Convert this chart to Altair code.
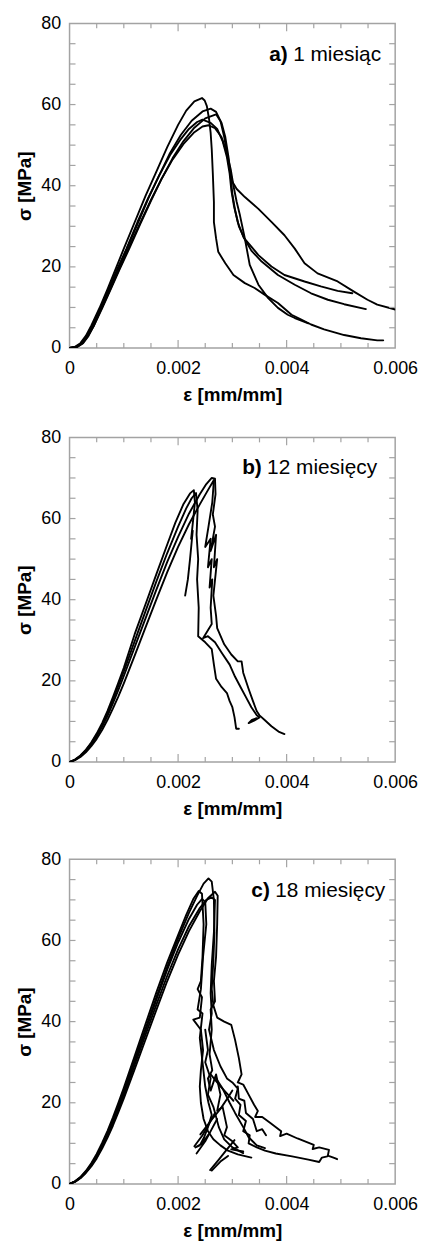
import altair as alt
import pandas as pd

# ---------------- data (strain in 1e-3 mm/mm, stress in MPa) ----------------
# panel a) 1 miesiąc
A1 = [(0,0),(0.1,0.3),(0.2,1.2),(0.3,3),(0.4,5.5),(0.55,9.8),(0.7,14.5),(0.85,19.5),(1.0,24.5),(1.2,31),(1.4,37.5),(1.6,43.5),(1.8,49.5),(2.0,55),(2.15,58.5),(2.3,60.8),(2.44,61.6),
      (2.49,61),(2.53,59.6),(2.57,56.5),(2.6,53),(2.62,49),(2.64,43),(2.66,36),(2.66,31),(2.7,27),(2.74,23.7),(2.87,20.9),(3.02,18),(3.23,16),(3.41,14.8),(3.6,13.1),(3.84,11.1),(4.09,8.2),(4.27,7.0),(4.45,5.8),(4.69,4.6),(5.06,3.2),(5.37,2.4),(5.67,1.9),(5.78,1.9)]
A2 = [(0,0),(0.12,0.3),(0.22,1.2),(0.32,3),(0.42,5.5),(0.57,9.8),(0.72,14.5),(0.88,19.5),(1.05,24.5),(1.25,31),(1.45,37),(1.65,42.5),(1.85,47.5),(2.05,51.5),(2.2,54),(2.35,55.7),(2.45,56.3),
      (2.6,55.5),(2.72,54),(2.82,51),(2.9,47),(2.95,43),(2.98,39),(3.03,35),(3.1,31),(3.2,27.5),(3.35,24),(3.54,21.3),(3.84,18),(4.15,15.6),(4.45,13.5),(4.76,11.9),(5.06,10.8),(5.46,9.6)]
A3 = [(0,0),(0.13,0.3),(0.23,1.2),(0.33,3),(0.43,5.5),(0.58,9.8),(0.73,14.5),(0.9,19.5),(1.05,24.3),(1.25,30.5),(1.45,36.8),(1.65,42.5),(1.85,48),(2.05,52.5),(2.25,56),(2.45,58.3),(2.6,59),
      (2.7,58.2),(2.78,56),(2.85,52),(2.9,48),(2.95,44),(3.0,41),(3.08,39.2),(3.23,37.2),(3.48,34.3),(3.72,31.1),(3.96,27.8),(4.15,24.5),(4.33,20.9),(4.57,18.4),(4.94,16.4),(5.24,13.9),(5.49,11.9),(5.67,10.7),(6.0,9.5)]
A4 = [(0,0),(0.14,0.3),(0.24,1.2),(0.34,3),(0.45,5.5),(0.6,9.8),(0.76,14.5),(0.92,19.3),(1.1,24.5),(1.3,30.5),(1.5,36.3),(1.7,41.8),(1.9,46.8),(2.1,51),(2.3,54.3),(2.5,56.6),(2.7,57.6),
      (2.8,55.5),(2.87,52),(2.93,47),(2.97,42),(3.0,38),(3.05,34),(3.12,30),(3.22,27),(3.35,25),(3.48,22.9),(3.72,20.1),(3.96,18),(4.33,16.4),(4.63,15.2),(4.94,14.1),(5.21,13.5)]
A5 = [(0,0),(0.15,0.3),(0.25,1.2),(0.35,3),(0.45,5.6),(0.55,8.6),(0.7,13),(0.9,19),(1.1,25),(1.3,30.8),(1.5,36.5),(1.7,41.8),(1.9,46.5),(2.1,50.3),(2.3,53.2),(2.45,54.6),(2.56,54.9),
      (2.68,54.2),(2.8,52),(2.9,48),(2.97,44),(3.02,40),(3.08,36),(3.14,32.7),(3.23,27),(3.32,20.5),(3.48,15.6),(3.66,12.3),(3.84,9.9),(4.02,8.2),(4.15,7.4),(4.4,6.1)]

# panel b) 12 miesięcy
B1 = [(0,0),(0.1,0.6),(0.2,1.6),(0.3,3),(0.4,4.8),(0.5,7),(0.6,9.6),(0.7,12.6),(0.8,16),(0.9,19.6),(1.0,23.2),(1.2,31.5),(1.43,40),(1.6,46.3),(1.8,53.6),(1.95,59),(2.1,63.6),(2.22,66.2),(2.29,67),
      (2.31,64),(2.28,60),(2.24,55),(2.27,57),(2.22,50),(2.18,45),(2.13,41)]
B2 = [(0,0),(0.1,0.5),(0.2,1.4),(0.3,2.7),(0.4,4.3),(0.5,6.3),(0.6,8.7),(0.7,11.4),(0.8,14.5),(0.9,17.8),(1.0,21.2),(1.2,28.3),(1.4,35.4),(1.6,42.5),(1.8,49.3),(2.0,55.5),(2.2,61.2),(2.4,66),(2.52,68.5),(2.62,70),(2.68,69.8),
      (2.69,66),(2.64,61),(2.68,58),(2.6,52),(2.7,56),(2.66,48),(2.72,50),(2.65,41),(2.7,36),(2.72,33),(2.85,29),(2.98,26.5),(3.1,24.8),(3.17,24.8),(3.2,22),(3.3,18),(3.38,15),(3.45,12.5),(3.5,11.5),(3.6,10.3),(3.72,8.8),(3.85,7.5),(3.96,6.9)]
B3 = [(0,0),(0.1,0.55),(0.2,1.5),(0.3,2.9),(0.4,4.6),(0.5,6.7),(0.6,9.2),(0.7,12.1),(0.8,15.3),(0.9,18.8),(1.0,22.3),(1.2,29.8),(1.4,37.2),(1.6,44.5),(1.8,51.5),(2.0,58),(2.15,62.5),(2.25,65),(2.33,66.3),
      (2.36,62),(2.34,56),(2.37,50),(2.35,45),(2.38,38),(2.37,31),(2.5,29.5),(2.62,27.8),(2.66,24),(2.7,20.5),(2.8,18.5),(2.9,17),(2.95,15),(3.0,13.5),(3.04,11),(3.07,8.2),(3.12,8.2)]
B4 = [(0,0),(0.1,0.45),(0.2,1.25),(0.3,2.4),(0.4,3.9),(0.5,5.7),(0.6,7.9),(0.7,10.4),(0.8,13.2),(0.9,16.2),(1.0,19.4),(1.2,26.2),(1.4,33.2),(1.6,40.1),(1.8,46.8),(2.0,53),(2.2,58.6),(2.4,63.5),(2.55,67),(2.66,69.5),
      (2.63,64),(2.56,58),(2.5,53),(2.6,55),(2.55,48),(2.62,50),(2.58,43),(2.63,45),(2.6,38),(2.62,34),(2.55,32.5),(2.46,30.5),(2.55,31),(2.68,29.5),(2.8,27),(2.95,24),(3.05,21),(3.15,18.5),(3.25,16),(3.35,13.5),(3.45,11.5),(3.5,11),(3.4,10.2),(3.3,9.6),(3.36,10.4),(3.45,10.8)]

# panel c) 18 miesięcy
C1 = [(0,0),(0.1,0.6),(0.2,1.6),(0.3,3),(0.4,4.8),(0.5,7),(0.6,9.6),(0.7,12.5),(0.8,15.7),(0.9,19.2),(1.0,22.8),(1.2,30.5),(1.4,38.3),(1.6,46),(1.8,53.5),(2.0,60.5),(2.2,66.8),(2.35,71),(2.47,74),(2.56,75.3),(2.62,74.5),
      (2.66,70),(2.67,62),(2.65,55),(2.62,48),(2.65,44),(2.72,41),(2.85,40),(2.98,39.2),(3.05,35.5),(3.12,31),(3.17,27),(3.1,25),(3.2,24.5),(3.3,22),(3.4,19.5),(3.47,18),(3.42,16.5),(3.55,16.5),(3.7,15),(3.9,13),(3.88,11.8),(4.0,12.4),(4.2,11.2),(4.5,9.6),(4.48,8.6),(4.6,9.0),(4.78,8.4),(4.76,7),(4.9,6.3),(4.93,6.1)]
C2 = [(0,0),(0.1,0.65),(0.2,1.7),(0.3,3.2),(0.4,5.1),(0.5,7.4),(0.6,10.1),(0.7,13.1),(0.8,16.4),(0.9,20),(1.0,23.7),(1.2,31.5),(1.4,39.4),(1.6,47.2),(1.8,54.6),(2.0,61.3),(2.15,66.3),(2.28,70.2),(2.38,72.2),(2.44,71.5),
      (2.47,64),(2.45,56),(2.42,50),(2.36,48),(2.44,46),(2.4,41),(2.28,40.5),(2.42,38),(2.46,33),(2.42,28),(2.4,24),(2.42,20),(2.47,16),(2.55,13),(2.65,11),(2.78,9.5),(2.92,8.2),(3.1,7.3),(3.35,6.5)]
C3 = [(0,0),(0.1,0.5),(0.2,1.4),(0.3,2.7),(0.4,4.3),(0.5,6.3),(0.6,8.7),(0.7,11.4),(0.8,14.4),(0.9,17.7),(1.0,21.1),(1.2,28.3),(1.4,35.6),(1.6,42.9),(1.8,50),(2.0,56.5),(2.2,62.3),(2.4,67.2),(2.55,70.4),(2.68,72),(2.73,71),
      (2.72,64),(2.7,56),(2.66,50),(2.68,45),(2.6,43),(2.62,38),(2.58,32),(2.63,28),(2.55,26),(2.6,23),(2.7,27),(2.78,22),(2.72,18),(2.82,19),(2.9,14),(2.85,12),(3.0,10.5),(3.1,9),(2.98,8.5),(3.2,8)]
C4 = [(0,0),(0.1,0.55),(0.2,1.5),(0.3,2.85),(0.4,4.55),(0.5,6.6),(0.6,9.1),(0.7,11.9),(0.8,15),(0.9,18.4),(1.0,21.9),(1.2,29.3),(1.4,36.8),(1.6,44.2),(1.8,51.3),(2.0,57.8),(2.2,63.5),(2.4,68),(2.52,70),(2.62,70.6),(2.68,70),
      (2.66,62),(2.62,54),(2.6,47),(2.62,42),(2.57,38),(2.66,33),(2.78,29),(2.9,26),(3.0,25),(3.1,23.5),(3.05,21),(3.15,19.5),(3.12,17),(3.25,15.5),(3.2,13),(3.32,12),(3.3,10),(3.45,9),(3.6,8.2),(3.8,7.5),(4.1,6.8),(4.4,6),(4.6,5.4),(4.65,6.5),(4.75,6.8)]
C5 = [(0,0),(0.1,0.6),(0.2,1.55),(0.3,2.95),(0.4,4.7),(0.5,6.85),(0.6,9.4),(0.7,12.3),(0.8,15.5),(0.9,19),(1.0,22.6),(1.2,30.1),(1.4,37.8),(1.6,45.4),(1.8,52.8),(2.0,59.5),(2.2,65.3),(2.35,68.8),(2.44,70.2),(2.5,69.5),
      (2.52,64),(2.46,56),(2.42,48),(2.36,43),(2.45,42),(2.4,36),(2.45,30),(2.5,24),(2.56,20),(2.62,17),(2.55,14),(2.48,11.5),(2.4,9.5),(2.32,9),(2.45,10),(2.56,12.2)]
C6 = [(2.62,3.3),(2.78,5.5),(2.92,6.9)]
C7 = [(2.34,7.5),(2.5,10.5),(2.62,13.5),(2.72,16)]
C8 = [(2.6,27),(2.75,24.5),(2.92,22),(3.02,20.5)]
C9 = [(2.41,12.2),(2.6,15.5),(2.78,18.5),(2.92,21.3),(3.0,23)]
C10 = [(2.59,3.4),(2.75,6),(2.9,8.5),(3.04,10.8)]
C11 = [(2.3,9.3),(2.45,12),(2.58,15),(2.68,17.5)]
C12 = [(2.7,26),(2.82,23.5),(2.95,20),(3.05,17.5),(3.2,14),(3.3,11.5),(3.45,9.5),(3.6,8.8)]
C13 = [(2.5,38),(2.55,33),(2.5,30),(2.6,26),(2.55,22),(2.65,19),(2.75,14),(2.85,11),(3.0,9),(3.2,7.6)]
C14 = [(3.1,24),(3.12,21),(3.22,20.5),(3.25,17.5),(3.38,16),(3.45,13),(3.55,13.5),(3.62,12)]

X_LABELS = [0, 0.002, 0.004, 0.006]
Y_LABELS = [0, 20, 40, 60, 80]
X_MINOR = [0.0005, 0.001, 0.0015, 0.0025, 0.003, 0.0035, 0.0045, 0.005, 0.0055]
X_MAJOR = [0.002, 0.004]
Y_MINOR = [5, 10, 15, 20, 25, 30, 35, 40, 45, 50, 55, 60, 65, 70, 75]

PANELS = [
    ("a)", "1 miesiąc", {"A1": A1, "A2": A2, "A3": A3, "A4": A4, "A5": A5}),
    ("b)", "12 miesięcy", {"B1": B1, "B2": B2, "B3": B3, "B4": B4}),
    ("c)", "18 miesięcy", {"C1": C1, "C2": C2, "C3": C3, "C4": C4, "C5": C5, "C6": C6, "C7": C7,
                           "C8": C8, "C9": C9, "C10": C10, "C11": C11, "C12": C12, "C13": C13, "C14": C14}),
]
# annotation anchors: (strain of bold part, strain of text, stress)
ANNOT = [(0.00368, 0.00412, 72.2), (0.00318, 0.00364, 72.4), (0.00335, 0.00379, 72.2)]

W, H = 328, 327
FONT = "Liberation Sans"
GRAY = "#a3a3a3"

X_TITLE = "ε [mm/mm]"
Y_TITLE = "σ [MPa]"
X_AXIS = alt.Axis(values=X_LABELS, grid=False, ticks=False, domain=False,
                  labelExpr="datum.value == 0 ? '0' : format(datum.value, '.3f')",
                  labelFlush=False, labelOverlap=False, labelPadding=12,
                  labelFont=FONT, labelFontSize=18, labelColor="black",
                  titleFont=FONT, titleFontSize=19, titleFontWeight="bold",
                  titleColor="black", titlePadding=8)
Y_AXIS = alt.Axis(values=Y_LABELS, grid=False, ticks=False, domain=False,
                  labelFlush=False, labelOverlap=False, labelPadding=9,
                  labelFont=FONT, labelFontSize=18, labelColor="black",
                  titleFont=FONT, titleFontSize=19, titleFontWeight="bold",
                  titleColor="black", titlePadding=6)


def panel(bold, text, curves, annot):
    rows = []
    for name, pts in curves.items():
        for i, (x, y) in enumerate(pts):
            rows.append({"curve": name, "i": i, "x": x * 1e-3, "y": y})
    df = pd.DataFrame(rows)
    xs = alt.Scale(domain=[0, 0.006], nice=False, zero=False)
    ys = alt.Scale(domain=[0, 80], nice=False)

    def X(field):
        return alt.X(field, scale=xs, title=X_TITLE, axis=X_AXIS)

    def Y(field):
        return alt.Y(field, scale=ys, title=Y_TITLE, axis=Y_AXIS)

    lines = alt.Chart(df).mark_line(color="black", strokeWidth=1.9, clip=True,
                                    strokeJoin="round", strokeCap="round").encode(
        x=X("x:Q"), y=Y("y:Q"), detail="curve:N", order="i:Q")

    def xticks(vals, length):
        base = alt.Chart(pd.DataFrame({"v": vals}))
        bot = base.mark_rule(color=GRAY, strokeWidth=1.2).encode(
            x=X("v:Q"), y=alt.value(H), y2=alt.value(H - length))
        top = base.mark_rule(color=GRAY, strokeWidth=1.2).encode(
            x=X("v:Q"), y=alt.value(0), y2=alt.value(length))
        return [bot, top]

    ybase = alt.Chart(pd.DataFrame({"v": Y_MINOR}))
    yl = ybase.mark_rule(color=GRAY, strokeWidth=1.2).encode(
        y=Y("v:Q"), x=alt.value(0), x2=alt.value(6))
    yr = ybase.mark_rule(color=GRAY, strokeWidth=1.2).encode(
        y=Y("v:Q"), x=alt.value(W), x2=alt.value(W - 6))

    bx, tx, ty = annot
    tb = alt.Chart(pd.DataFrame({"x": [bx], "y": [ty], "t": [bold]})).mark_text(
        align="left", baseline="middle", font=FONT, fontSize=21, fontWeight="bold", color="black"
    ).encode(x=X("x:Q"), y=Y("y:Q"), text="t:N")
    tt = alt.Chart(pd.DataFrame({"x": [tx], "y": [ty], "t": [text]})).mark_text(
        align="left", baseline="middle", font=FONT, fontSize=21, color="black"
    ).encode(x=X("x:Q"), y=Y("y:Q"), text="t:N")

    layers = [lines] + xticks(X_MINOR, 5) + xticks(X_MAJOR, 8) + [yl, yr, tb, tt]
    return alt.layer(*layers).properties(width=W, height=H)


pa = panel(*PANELS[0], ANNOT[0])
pb = panel(*PANELS[1], ANNOT[1])
pc = panel(*PANELS[2], ANNOT[2])

chart = alt.vconcat(alt.vconcat(pa, pb, spacing=22), pc, spacing=30).properties(
    padding={"top": 1, "left": 7, "right": 0, "bottom": 0}
).configure_view(stroke=GRAY, strokeWidth=1.5)

chart.save("out.html", embed_options={"renderer": "svg", "actions": False})
